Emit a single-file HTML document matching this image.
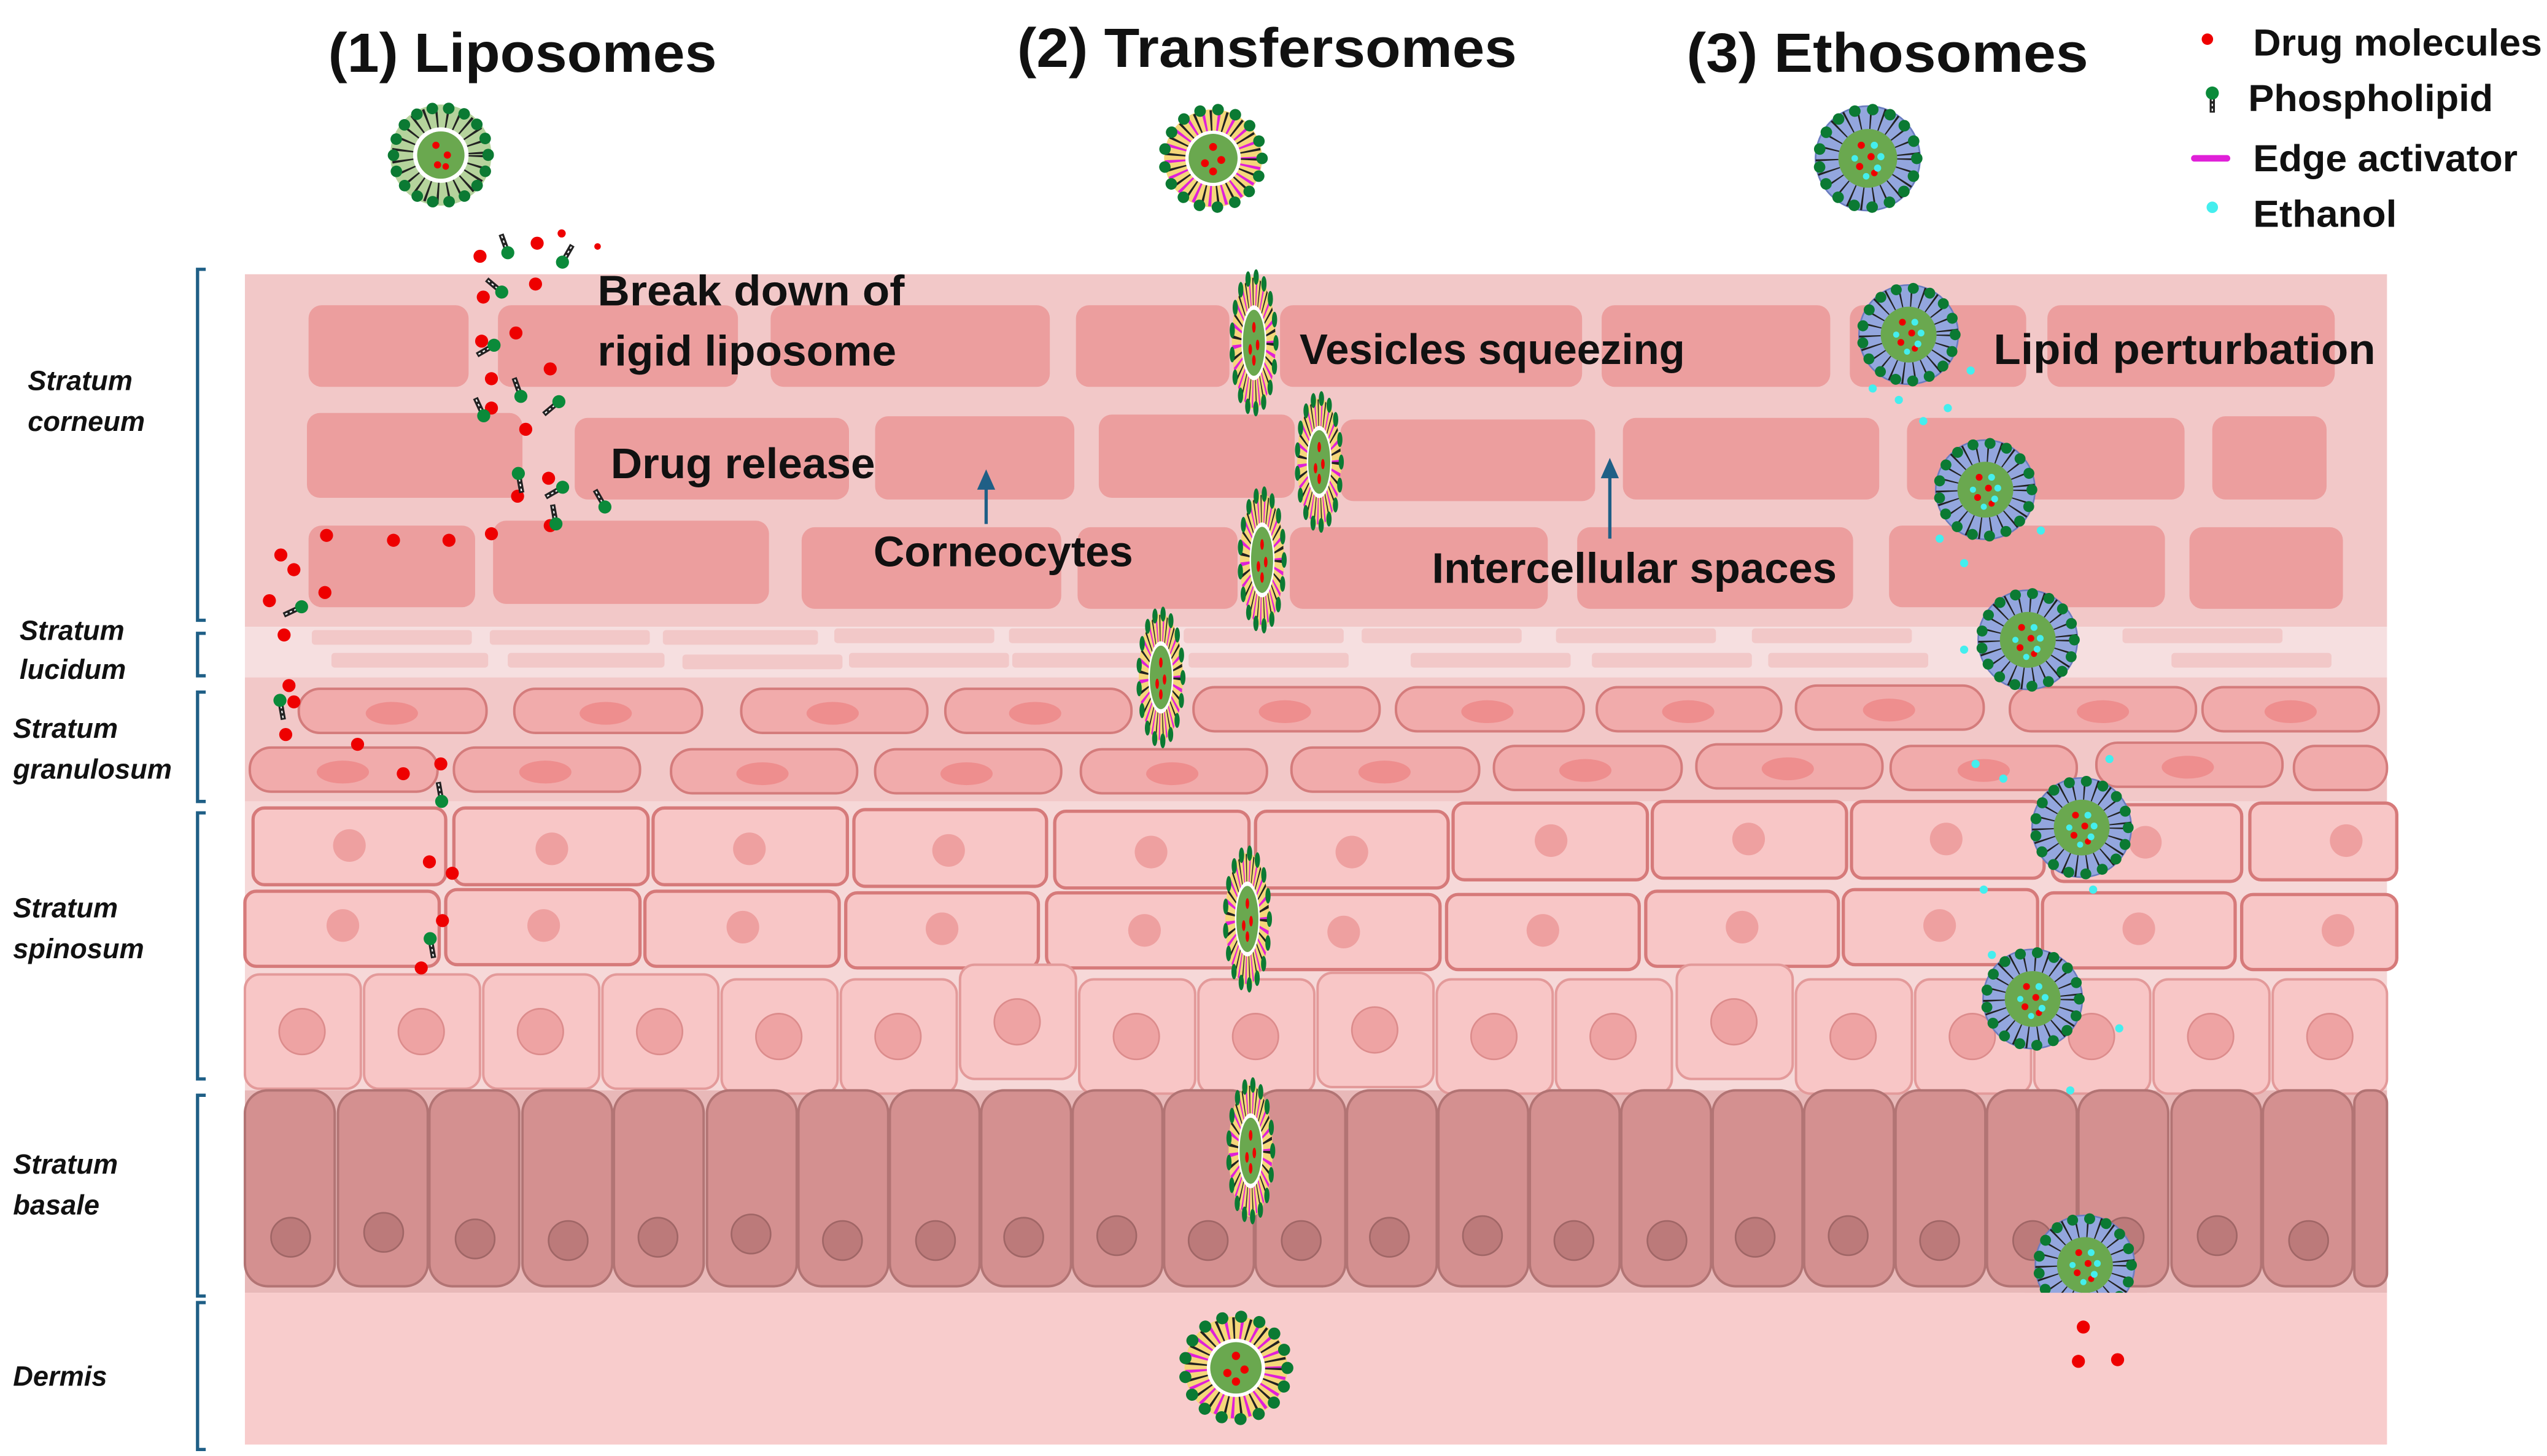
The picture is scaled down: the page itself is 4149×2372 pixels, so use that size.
<!DOCTYPE html>
<html><head><meta charset="utf-8"><style>html,body{margin:0;padding:0;background:#fff}svg{display:block}text{font-family:"Liberation Sans",sans-serif;font-weight:bold}</style></head>
<body>
<svg width="4149" height="2372" viewBox="0 0 1560 892" preserveAspectRatio="none" xmlns="http://www.w3.org/2000/svg">
<defs>
<g id="lipo">
<circle r="31" fill="#b5d39c"/>
<circle r="23" fill="none" stroke="#222" stroke-width="14" stroke-dasharray="1.2 5"/>
<circle r="17" fill="#fff"/><circle r="14.5" fill="#6aa84f"/>
<circle r="29" fill="none" stroke="#0b7a33" stroke-width="7" stroke-linecap="round" stroke-dasharray="0.1 10"/>
<circle cx="-3" cy="-6" r="2.2" fill="#e00"/><circle cx="4" cy="0" r="2.2" fill="#e00"/><circle cx="-2" cy="6" r="2.2" fill="#e00"/><circle cx="3" cy="7" r="2" fill="#e00"/>
</g>
<g id="trans">
<circle r="30" fill="#f5d77a"/>
<circle r="23" fill="none" stroke="#222" stroke-width="13" stroke-dasharray="1.2 7"/>
<circle r="23" fill="none" stroke="#e020d8" stroke-width="13" stroke-dasharray="1.5 6.7" stroke-dashoffset="4"/>
<circle r="17" fill="#fff"/><circle r="15" fill="#6aa84f"/>
<circle r="30" fill="none" stroke="#0b7a33" stroke-width="7" stroke-linecap="round" stroke-dasharray="0.1 11"/>
<circle cx="0" cy="-7" r="2.4" fill="#e00"/><circle cx="-5" cy="3" r="2.4" fill="#e00"/><circle cx="5" cy="1" r="2.4" fill="#e00"/><circle cx="0" cy="8" r="2.4" fill="#e00"/>
</g>
<g id="etho">
<circle r="32" fill="#93a6de" stroke="#6a7cc0" stroke-width="1"/>
<circle r="25" fill="none" stroke="#222" stroke-width="14" stroke-dasharray="1 6"/>
<circle r="18" fill="#6aa84f"/>
<circle r="30" fill="none" stroke="#0b7a33" stroke-width="7" stroke-linecap="round" stroke-dasharray="0.1 11"/>
<circle cx="-4" cy="-8" r="2.2" fill="#e00"/><circle cx="2" cy="-1" r="2.2" fill="#e00"/><circle cx="-5" cy="5" r="2.2" fill="#e00"/><circle cx="4" cy="9" r="2" fill="#e00"/>
<circle cx="4" cy="-8" r="2.2" fill="#4ee"/><circle cx="8" cy="-1" r="2.2" fill="#4ee"/><circle cx="-8" cy="0" r="2" fill="#4ee"/><circle cx="6" cy="6" r="2.2" fill="#4ee"/><circle cx="-1" cy="11" r="2" fill="#4ee"/>
</g>
<g id="pl"><rect x="-1.6" y="-9" width="3.2" height="10" fill="#222"/><line x1="0" y1="-8" x2="0" y2="0" stroke="#fff" stroke-width="0.8" stroke-dasharray="1.5 1.5"/><circle cx="0" cy="3" r="4" fill="#0b8a3a"/></g>
</defs>

<!-- skin layers -->
<rect x="150" y="168" width="1312" height="216" fill="#f2c8c8"/>
<rect x="150" y="384" width="1312" height="31" fill="#f6dfe0"/>
<rect x="150" y="415" width="1312" height="76" fill="#f2c8c8"/>
<rect x="150" y="491" width="1312" height="177" fill="#f6d8d8"/>
<rect x="150" y="668" width="1312" height="124" fill="#e8b8b8"/>
<rect x="150" y="792" width="1312" height="93" fill="#f8cccc"/>

<!-- corneocytes -->
<g fill="#ec9e9e">
<rect x="189" y="187" width="98" height="50" rx="8"/><rect x="305" y="187" width="147" height="50" rx="8"/><rect x="472" y="187" width="171" height="50" rx="8"/><rect x="659" y="187" width="94" height="50" rx="8"/><rect x="784" y="187" width="185" height="50" rx="8"/><rect x="981" y="187" width="140" height="50" rx="8"/><rect x="1133" y="187" width="108" height="50" rx="8"/><rect x="1254" y="187" width="176" height="50" rx="8"/>
<rect x="188" y="253" width="132" height="52" rx="8"/><rect x="352" y="256" width="168" height="50" rx="8"/><rect x="536" y="255" width="122" height="51" rx="8"/><rect x="673" y="254" width="120" height="51" rx="8"/><rect x="821" y="257" width="156" height="50" rx="8"/><rect x="994" y="256" width="157" height="50" rx="8"/><rect x="1168" y="256" width="170" height="50" rx="8"/><rect x="1355" y="255" width="70" height="51" rx="8"/>
<rect x="189" y="322" width="102" height="50" rx="8"/><rect x="302" y="319" width="169" height="51" rx="8"/><rect x="491" y="323" width="159" height="50" rx="8"/><rect x="660" y="323" width="98" height="50" rx="8"/><rect x="790" y="323" width="158" height="50" rx="8"/><rect x="966" y="323" width="169" height="50" rx="8"/><rect x="1157" y="322" width="169" height="50" rx="8"/><rect x="1341" y="323" width="94" height="50" rx="8"/>
</g>
<!-- lucidum -->
<g fill="#f2c8c8">
<rect x="191" y="386" width="98" height="9" rx="2"/><rect x="300" y="386" width="98" height="9" rx="2"/><rect x="406" y="386" width="95" height="9" rx="2"/><rect x="511" y="385" width="98" height="9" rx="2"/><rect x="618" y="385" width="98" height="9" rx="2"/><rect x="725" y="385" width="98" height="9" rx="2"/><rect x="834" y="385" width="98" height="9" rx="2"/><rect x="953" y="385" width="98" height="9" rx="2"/><rect x="1073" y="385" width="98" height="9" rx="2"/><rect x="1300" y="385" width="98" height="9" rx="2"/>
<rect x="203" y="400" width="96" height="9" rx="2"/><rect x="311" y="400" width="96" height="9" rx="2"/><rect x="418" y="401" width="98" height="9" rx="2"/><rect x="520" y="400" width="98" height="9" rx="2"/><rect x="620" y="400" width="98" height="9" rx="2"/><rect x="728" y="400" width="98" height="9" rx="2"/><rect x="864" y="400" width="98" height="9" rx="2"/><rect x="975" y="400" width="98" height="9" rx="2"/><rect x="1083" y="400" width="98" height="9" rx="2"/><rect x="1330" y="400" width="98" height="9" rx="2"/>
</g>
<!-- granulosum -->
<g fill="#f1abab" stroke="#d47c7c" stroke-width="1.5">
<rect x="183" y="422" width="115" height="27" rx="13"/><rect x="315" y="422" width="115" height="27" rx="13"/><rect x="454" y="422" width="114" height="27" rx="13"/><rect x="579" y="422" width="114" height="27" rx="13"/><rect x="731" y="421" width="114" height="27" rx="13"/><rect x="855" y="421" width="115" height="27" rx="13"/><rect x="978" y="421" width="113" height="27" rx="13"/><rect x="1100" y="420" width="115" height="27" rx="13"/><rect x="1231" y="421" width="114" height="27" rx="13"/><rect x="1349" y="421" width="108" height="27" rx="13"/>
<rect x="153" y="458" width="115" height="27" rx="13"/><rect x="278" y="458" width="114" height="27" rx="13"/><rect x="411" y="459" width="114" height="27" rx="13"/><rect x="536" y="459" width="114" height="27" rx="13"/><rect x="662" y="459" width="114" height="27" rx="13"/><rect x="791" y="458" width="115" height="27" rx="13"/><rect x="915" y="457" width="115" height="27" rx="13"/><rect x="1039" y="456" width="114" height="27" rx="13"/><rect x="1158" y="457" width="114" height="27" rx="13"/><rect x="1284" y="455" width="114" height="27" rx="13"/><rect x="1405" y="457" width="57" height="27" rx="13"/>
</g>
<g fill="#ee8e8e">
<ellipse cx="240" cy="437" rx="16" ry="7"/><ellipse cx="371" cy="437" rx="16" ry="7"/><ellipse cx="510" cy="437" rx="16" ry="7"/><ellipse cx="634" cy="437" rx="16" ry="7"/><ellipse cx="787" cy="436" rx="16" ry="7"/><ellipse cx="911" cy="436" rx="16" ry="7"/><ellipse cx="1034" cy="436" rx="16" ry="7"/><ellipse cx="1157" cy="435" rx="16" ry="7"/><ellipse cx="1288" cy="436" rx="16" ry="7"/><ellipse cx="1403" cy="436" rx="16" ry="7"/>
<ellipse cx="210" cy="473" rx="16" ry="7"/><ellipse cx="334" cy="473" rx="16" ry="7"/><ellipse cx="467" cy="474" rx="16" ry="7"/><ellipse cx="592" cy="474" rx="16" ry="7"/><ellipse cx="718" cy="474" rx="16" ry="7"/><ellipse cx="848" cy="473" rx="16" ry="7"/><ellipse cx="971" cy="472" rx="16" ry="7"/><ellipse cx="1095" cy="471" rx="16" ry="7"/><ellipse cx="1215" cy="472" rx="16" ry="7"/><ellipse cx="1340" cy="470" rx="16" ry="7"/>
</g>
<!-- spinosum -->
<g fill="#f8c6c6" stroke="#d67a7a" stroke-width="2">
<rect x="155" y="495" width="118" height="47" rx="7"/><rect x="278" y="495" width="119" height="47" rx="7"/><rect x="400" y="495" width="119" height="47" rx="7"/><rect x="523" y="496" width="118" height="47" rx="7"/><rect x="646" y="497" width="119" height="47" rx="7"/><rect x="769" y="497" width="118" height="47" rx="7"/><rect x="890" y="492" width="119" height="47" rx="7"/><rect x="1012" y="491" width="119" height="47" rx="7"/><rect x="1134" y="491" width="118" height="47" rx="7"/><rect x="1257" y="493" width="116" height="47" rx="7"/><rect x="1378" y="492" width="90" height="47" rx="7"/>
<rect x="150" y="546" width="119" height="46" rx="7"/><rect x="273" y="545" width="119" height="46" rx="7"/><rect x="395" y="546" width="119" height="46" rx="7"/><rect x="518" y="547" width="118" height="46" rx="7"/><rect x="641" y="547" width="119" height="46" rx="7"/><rect x="764" y="548" width="118" height="46" rx="7"/><rect x="886" y="548" width="118" height="46" rx="7"/><rect x="1008" y="546" width="118" height="46" rx="7"/><rect x="1129" y="545" width="119" height="46" rx="7"/><rect x="1251" y="547" width="118" height="46" rx="7"/><rect x="1373" y="548" width="95" height="46" rx="7"/>
</g>
<g fill="#eea0a0">
<circle cx="214" cy="518" r="10"/><circle cx="338" cy="520" r="10"/><circle cx="459" cy="520" r="10"/><circle cx="581" cy="521" r="10"/><circle cx="705" cy="522" r="10"/><circle cx="828" cy="522" r="10"/><circle cx="950" cy="515" r="10"/><circle cx="1071" cy="514" r="10"/><circle cx="1192" cy="514" r="10"/><circle cx="1314" cy="516" r="10"/><circle cx="1437" cy="515" r="10"/>
<circle cx="210" cy="567" r="10"/><circle cx="333" cy="567" r="10"/><circle cx="455" cy="568" r="10"/><circle cx="577" cy="569" r="10"/><circle cx="701" cy="570" r="10"/><circle cx="823" cy="571" r="10"/><circle cx="945" cy="570" r="10"/><circle cx="1067" cy="568" r="10"/><circle cx="1188" cy="567" r="10"/><circle cx="1310" cy="569" r="10"/><circle cx="1432" cy="570" r="10"/>
</g>
<g fill="#f8c6c6" stroke="#e39a9a" stroke-width="1.5">
<rect x="150" y="597" width="71" height="70" rx="9"/><rect x="223" y="597" width="71" height="70" rx="9"/><rect x="296" y="597" width="71" height="70" rx="9"/><rect x="369" y="597" width="71" height="70" rx="9"/><rect x="442" y="600" width="71" height="70" rx="9"/><rect x="515" y="600" width="71" height="70" rx="9"/><rect x="588" y="591" width="71" height="70" rx="9"/><rect x="661" y="600" width="71" height="70" rx="9"/><rect x="734" y="600" width="71" height="70" rx="9"/><rect x="807" y="596" width="71" height="70" rx="9"/><rect x="880" y="600" width="71" height="70" rx="9"/><rect x="953" y="600" width="71" height="70" rx="9"/><rect x="1027" y="591" width="71" height="70" rx="9"/><rect x="1100" y="600" width="71" height="70" rx="9"/><rect x="1173" y="600" width="71" height="70" rx="9"/><rect x="1246" y="600" width="71" height="70" rx="9"/><rect x="1319" y="600" width="71" height="70" rx="9"/><rect x="1392" y="600" width="70" height="70" rx="9"/>
</g>
<g fill="#eea3a3" stroke="#dc8c8c" stroke-width="1">
<circle cx="185" cy="632" r="14"/><circle cx="258" cy="632" r="14"/><circle cx="331" cy="632" r="14"/><circle cx="404" cy="632" r="14"/><circle cx="477" cy="635" r="14"/><circle cx="550" cy="635" r="14"/><circle cx="623" cy="626" r="14"/><circle cx="696" cy="635" r="14"/><circle cx="769" cy="635" r="14"/><circle cx="842" cy="631" r="14"/><circle cx="915" cy="635" r="14"/><circle cx="988" cy="635" r="14"/><circle cx="1062" cy="626" r="14"/><circle cx="1135" cy="635" r="14"/><circle cx="1208" cy="635" r="14"/><circle cx="1281" cy="635" r="14"/><circle cx="1354" cy="635" r="14"/><circle cx="1427" cy="635" r="14"/>
</g>
<!-- basale -->
<g fill="#d49090" stroke="#b27474" stroke-width="1.5">
<rect x="150" y="668" width="55" height="120" rx="14"/><rect x="207" y="668" width="55" height="120" rx="14"/><rect x="263" y="668" width="55" height="120" rx="14"/><rect x="320" y="668" width="55" height="120" rx="14"/><rect x="376" y="668" width="55" height="120" rx="14"/><rect x="433" y="668" width="55" height="120" rx="14"/><rect x="489" y="668" width="55" height="120" rx="14"/><rect x="545" y="668" width="55" height="120" rx="14"/><rect x="601" y="668" width="55" height="120" rx="14"/><rect x="657" y="668" width="55" height="120" rx="14"/><rect x="713" y="668" width="55" height="120" rx="14"/><rect x="769" y="668" width="55" height="120" rx="14"/><rect x="825" y="668" width="55" height="120" rx="14"/><rect x="881" y="668" width="55" height="120" rx="14"/><rect x="937" y="668" width="55" height="120" rx="14"/><rect x="993" y="668" width="55" height="120" rx="14"/><rect x="1049" y="668" width="55" height="120" rx="14"/><rect x="1105" y="668" width="55" height="120" rx="14"/><rect x="1161" y="668" width="55" height="120" rx="14"/><rect x="1217" y="668" width="55" height="120" rx="14"/><rect x="1273" y="668" width="55" height="120" rx="14"/><rect x="1330" y="668" width="55" height="120" rx="14"/><rect x="1386" y="668" width="55" height="120" rx="14"/><rect x="1442" y="668" width="20" height="120" rx="8"/>
</g>
<g fill="#bc7a7a" stroke="#a06666" stroke-width="1">
<circle cx="178" cy="758" r="12"/><circle cx="235" cy="755" r="12"/><circle cx="291" cy="759" r="12"/><circle cx="348" cy="760" r="12"/><circle cx="403" cy="758" r="12"/><circle cx="460" cy="756" r="12"/><circle cx="516" cy="760" r="12"/><circle cx="573" cy="760" r="12"/><circle cx="627" cy="758" r="12"/><circle cx="684" cy="757" r="12"/><circle cx="740" cy="760" r="12"/><circle cx="797" cy="760" r="12"/><circle cx="851" cy="758" r="12"/><circle cx="908" cy="757" r="12"/><circle cx="964" cy="760" r="12"/><circle cx="1021" cy="760" r="12"/><circle cx="1075" cy="758" r="12"/><circle cx="1132" cy="757" r="12"/><circle cx="1188" cy="760" r="12"/><circle cx="1245" cy="760" r="12"/><circle cx="1301" cy="758" r="12"/><circle cx="1358" cy="757" r="12"/><circle cx="1414" cy="760" r="12"/>
</g>

<!-- brackets -->
<g fill="none" stroke="#1f5f86" stroke-width="2">
<path d="M126,165 H121 V380 H126"/><path d="M126,388 H121 V414 H126"/><path d="M126,424 H121 V491 H126"/><path d="M126,498 H121 V661 H126"/><path d="M126,671 H121 V794 H126"/><path d="M126,798 H121 V888 H126"/>
</g>
<g font-size="17" font-style="italic" fill="#111">
<text x="17" y="239">Stratum</text><text x="17" y="264">corneum</text>
<text x="12" y="392">Stratum</text><text x="12" y="416">lucidum</text>
<text x="8" y="452">Stratum</text><text x="8" y="477">granulosum</text>
<text x="8" y="562">Stratum</text><text x="8" y="587">spinosum</text>
<text x="8" y="719">Stratum</text><text x="8" y="744">basale</text>
<text x="8" y="849">Dermis</text>
</g>

<!-- titles -->
<g font-size="34" fill="#111">
<text x="201" y="44" textLength="238" lengthAdjust="spacingAndGlyphs">(1) Liposomes</text>
<text x="623" y="41" textLength="306" lengthAdjust="spacingAndGlyphs">(2) Transfersomes</text>
<text x="1033" y="44" textLength="246" lengthAdjust="spacingAndGlyphs">(3) Ethosomes</text>
</g>
<!-- legend -->
<circle cx="1352" cy="24" r="3.5" fill="#e00"/>
<use href="#pl" transform="translate(1355,60) rotate(180)"/>
<rect x="1342" y="95" width="24" height="4" rx="2" fill="#e020d8"/>
<circle cx="1355" cy="127" r="3.5" fill="#4ee"/>
<g font-size="23" fill="#111">
<text x="1380" y="34" textLength="177" lengthAdjust="spacingAndGlyphs">Drug molecules</text>
<text x="1377" y="68" textLength="150" lengthAdjust="spacingAndGlyphs">Phospholipid</text>
<text x="1380" y="105" textLength="162" lengthAdjust="spacingAndGlyphs">Edge activator</text>
<text x="1380" y="139" textLength="88" lengthAdjust="spacingAndGlyphs">Ethanol</text>
</g>
<!-- labels -->
<g font-size="26" fill="#111">
<text x="366" y="187" textLength="188" lengthAdjust="spacingAndGlyphs">Break down of</text>
<text x="366" y="224" textLength="183" lengthAdjust="spacingAndGlyphs">rigid liposome</text>
<text x="374" y="293" textLength="162" lengthAdjust="spacingAndGlyphs">Drug release</text>
<text x="535" y="347" textLength="159" lengthAdjust="spacingAndGlyphs">Corneocytes</text>
<text x="796" y="223" textLength="236" lengthAdjust="spacingAndGlyphs">Vesicles squeezing</text>
<text x="877" y="357" textLength="248" lengthAdjust="spacingAndGlyphs">Intercellular spaces</text>
<text x="1221" y="223" textLength="234" lengthAdjust="spacingAndGlyphs">Lipid perturbation</text>
</g>
<!-- arrows -->
<g stroke="#1f5f86" stroke-width="2" fill="#1f5f86">
<line x1="604" y1="321" x2="604" y2="298"/><path d="M600,299 L604,290 L608,299 Z"/>
<line x1="986" y1="330" x2="986" y2="291"/><path d="M982,292 L986,283 L990,292 Z"/>
</g>

<!-- vesicles -->
<use href="#lipo" transform="translate(270,95)"/>
<use href="#trans" transform="translate(743,97)"/>
<use href="#etho" transform="translate(1144,97)"/>
<use href="#trans" transform="translate(768,210) scale(0.45,1.35)"/>
<use href="#trans" transform="translate(808,283) scale(0.45,1.3)"/>
<use href="#trans" transform="translate(773,343) scale(0.45,1.35)"/>
<use href="#trans" transform="translate(711,415) scale(0.45,1.3)"/>
<use href="#trans" transform="translate(764,563) scale(0.45,1.35)"/>
<use href="#trans" transform="translate(766,705) scale(0.45,1.35)"/>
<use href="#trans" transform="translate(757,838) scale(1.05)"/>
<use href="#etho" transform="translate(1169,205) scale(0.95)"/>
<use href="#etho" transform="translate(1216,300) scale(0.95)"/>
<use href="#etho" transform="translate(1242,392) scale(0.95)"/>
<use href="#etho" transform="translate(1275,507) scale(0.95)"/>
<use href="#etho" transform="translate(1245,612) scale(0.95)"/>
<use href="#etho" transform="translate(1277,775) scale(0.95)"/>
<rect x="1240" y="792" width="75" height="20" fill="#f8cccc"/>

<!-- ethanol dots -->
<g fill="#4ee">
<circle cx="1147" cy="238" r="2.5"/><circle cx="1163" cy="245" r="2.5"/><circle cx="1178" cy="258" r="2.5"/><circle cx="1193" cy="250" r="2.5"/><circle cx="1207" cy="227" r="2.5"/><circle cx="1188" cy="330" r="2.5"/><circle cx="1203" cy="345" r="2.5"/><circle cx="1250" cy="325" r="2.5"/><circle cx="1203" cy="398" r="2.5"/><circle cx="1210" cy="468" r="2.5"/><circle cx="1227" cy="477" r="2.5"/><circle cx="1292" cy="465" r="2.5"/><circle cx="1215" cy="545" r="2.5"/><circle cx="1282" cy="545" r="2.5"/><circle cx="1220" cy="585" r="2.5"/><circle cx="1298" cy="630" r="2.5"/><circle cx="1268" cy="668" r="2.5"/>
</g>
<!-- drug molecules -->
<g fill="#e00">
<circle cx="294" cy="157" r="4"/><circle cx="329" cy="149" r="4"/><circle cx="344" cy="143" r="2.5"/><circle cx="366" cy="151" r="2"/><circle cx="296" cy="182" r="4"/><circle cx="328" cy="174" r="4"/><circle cx="295" cy="209" r="4"/><circle cx="316" cy="204" r="4"/><circle cx="301" cy="232" r="4"/><circle cx="337" cy="226" r="4"/><circle cx="301" cy="250" r="4"/><circle cx="322" cy="263" r="4"/><circle cx="336" cy="293" r="4"/><circle cx="317" cy="304" r="4"/><circle cx="337" cy="322" r="4"/><circle cx="200" cy="328" r="4"/><circle cx="241" cy="331" r="4"/><circle cx="275" cy="331" r="4"/><circle cx="301" cy="327" r="4"/><circle cx="172" cy="340" r="4"/><circle cx="180" cy="349" r="4"/><circle cx="199" cy="363" r="4"/><circle cx="165" cy="368" r="4"/><circle cx="174" cy="389" r="4"/><circle cx="177" cy="420" r="4"/><circle cx="180" cy="430" r="4"/><circle cx="175" cy="450" r="4"/><circle cx="219" cy="456" r="4"/><circle cx="247" cy="474" r="4"/><circle cx="270" cy="468" r="4"/><circle cx="263" cy="528" r="4"/><circle cx="277" cy="535" r="4"/><circle cx="271" cy="564" r="4"/><circle cx="258" cy="593" r="4"/>
<circle cx="1276" cy="813" r="4"/><circle cx="1273" cy="834" r="4"/><circle cx="1297" cy="833" r="4"/>
</g>
<!-- free phospholipids -->
<use href="#pl" transform="translate(310,152) rotate(-20)"/>
<use href="#pl" transform="translate(346,158) rotate(30)"/>
<use href="#pl" transform="translate(305,177) rotate(-50)"/>
<use href="#pl" transform="translate(300,213) rotate(-120)"/>
<use href="#pl" transform="translate(318,240) rotate(-20)"/>
<use href="#pl" transform="translate(295,252) rotate(-25)"/>
<use href="#pl" transform="translate(340,248) rotate(-130)"/>
<use href="#pl" transform="translate(318,293) rotate(170)"/>
<use href="#pl" transform="translate(342,300) rotate(-120)"/>
<use href="#pl" transform="translate(340,318) rotate(-10)"/>
<use href="#pl" transform="translate(369,308) rotate(-30)"/>
<use href="#pl" transform="translate(182,373) rotate(-115)"/>
<use href="#pl" transform="translate(172,432) rotate(170)"/>
<use href="#pl" transform="translate(270,488) rotate(-10)"/>
<use href="#pl" transform="translate(264,578) rotate(170)"/>
</svg>
</body></html>
